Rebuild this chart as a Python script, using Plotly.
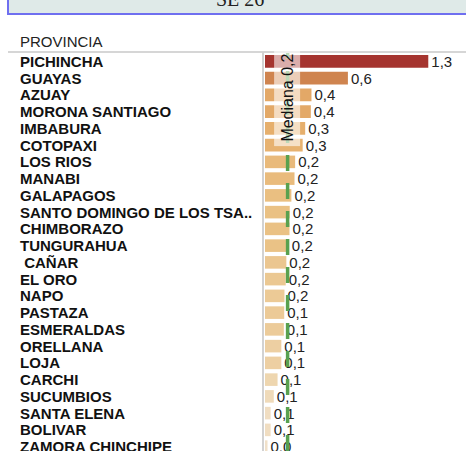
import plotly.graph_objects as go
import numpy as np

provincias = ["PICHINCHA", "GUAYAS", "AZUAY", "MORONA SANTIAGO", "IMBABURA", "COTOPAXI",
              "LOS RIOS", "MANABI", "GALAPAGOS", "SANTO DOMINGO DE LOS TSA..", "CHIMBORAZO",
              "TUNGURAHUA", " CAÑAR", "EL ORO", "NAPO", "PASTAZA", "ESMERALDAS", "ORELLANA",
              "LOJA", "CARCHI", "SUCUMBIOS", "SANTA ELENA", "BOLIVAR", "ZAMORA CHINCHIPE"]
valores = [1.30, 0.66, 0.37, 0.365, 0.32, 0.30,
           0.24, 0.235, 0.21, 0.197, 0.195,
           0.19, 0.17, 0.165, 0.155, 0.153, 0.15, 0.13,
           0.13, 0.10, 0.07, 0.045, 0.045, 0.02]
etiquetas = ["1,3", "0,6", "0,4", "0,4", "0,3", "0,3",
             "0,2", "0,2", "0,2", "0,2", "0,2",
             "0,2", "0,2", "0,2", "0,2", "0,1", "0,1", "0,1",
             "0,1", "0,1", "0,1", "0,1", "0,1", "0,0"]
titulo = "SE 26"
encabezado = "PROVINCIA"

mediana = float(np.median(valores))

colorscale = [[0.0, "#f1e3d0"], [0.08, "#eed5ae"], [0.15, "#eac184"],
              [0.25, "#e6ae6b"], [0.5, "#d08550"], [1.0, "#a5342f"]]

fig = go.Figure()
fig.add_trace(go.Bar(
    y=provincias, x=valores, orientation="h",
    marker=dict(color=valores, colorscale=colorscale, cmin=0, cmax=1.3, line=dict(width=0)),
    text=etiquetas, textposition="outside", cliponaxis=False, constraintext="none",
    textfont=dict(family="Liberation Sans, Arial", size=15, color="#222"),
    hoverinfo="skip",
))

W, H = 466, 451
L, T = 265, 53
PH = H - T
fig.update_layout(
    width=W, height=H,
    margin=dict(l=L, r=0, t=T, b=0, pad=0),
    paper_bgcolor="white", plot_bgcolor="white",
    bargap=0.25, showlegend=False,
    font=dict(family="Liberation Sans, Arial", size=15, color="#222"),
    xaxis=dict(range=[0, (W - L) / 125.6], visible=False, fixedrange=True),
    yaxis=dict(categoryorder="array", categoryarray=provincias,
               range=[PH / 16.75 - 0.5, -0.5],
               showticklabels=False, showgrid=False, zeroline=False, showline=False),
)

plot_w = W - L
px = lambda x: (x - L) / plot_w
py = lambda y: (H - y) / PH

# provincia labels
for p in provincias:
    fig.add_annotation(x=px(18), xref="paper", y=p, yref="y", text="<b>%s</b>" % p,
                       showarrow=False, xanchor="left", yanchor="middle",
                       font=dict(family="Liberation Sans, Arial", size=15, color="#111"))

# header
fig.add_annotation(x=px(18), xref="paper", y=py(41), yref="paper",
                   text=encabezado, showarrow=False, xanchor="left", yanchor="middle",
                   font=dict(family="Liberation Sans, Arial", size=15, color="#222"))

# header separator line & axis line
fig.add_shape(type="line", xref="paper", yref="paper", x0=px(8), x1=1,
              y0=py(52), y1=py(52), line=dict(color="#d6d6d6", width=2))
fig.add_shape(type="line", xref="paper", yref="paper", x0=px(263), x1=px(263),
              y0=0, y1=py(52), line=dict(color="#d2d2d2", width=2))

# title box
fig.add_shape(type="rect", xref="paper", yref="paper", x0=px(8), x1=1.02,
              y0=py(14), y1=py(-10),
              fillcolor="#dfeae8", line=dict(color="#6f6ff0", width=2), layer="below")
fig.add_annotation(x=px(240), xref="paper", y=py(-1), yref="paper",
                   text=titulo, showarrow=False, xanchor="center", yanchor="middle",
                   font=dict(family="Liberation Serif, Times New Roman", size=20, color="#222"))

# median line
fig.add_shape(type="line", xref="x", yref="paper", x0=mediana, x1=mediana, y0=0, y1=1,
              line=dict(color="#59a14f", width=3.5, dash="16px,12px"), layer="above")
fig.add_annotation(x=mediana, xref="x", y=py(49), yref="paper",
                   text="Mediana 0,2", textangle=-90, showarrow=False,
                   xanchor="center", yanchor="top", bgcolor="rgba(255,255,255,0.6)",
                   borderpad=4,
                   font=dict(family="Liberation Sans, Arial", size=16, color="#111"))

fig.write_html("out.html", config={"displayModeBar": False},
               post_script="document.body.style.margin='0px';")
